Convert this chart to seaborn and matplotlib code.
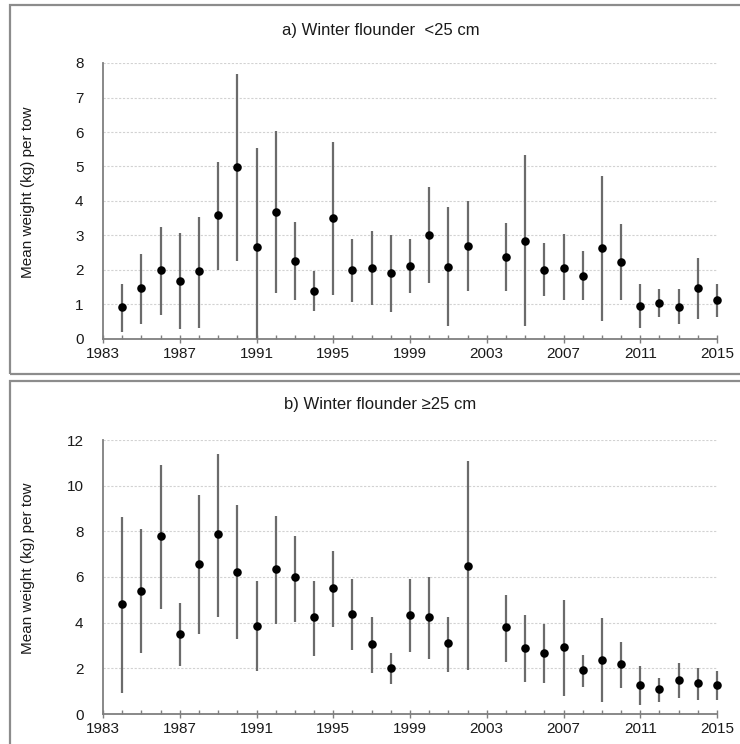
import numpy as np
import pandas as pd
import matplotlib
matplotlib.use("Agg")
import matplotlib.pyplot as plt
from matplotlib.patches import Rectangle
from matplotlib.ticker import MultipleLocator
import seaborn as sns

sns.set_theme(style="white")
plt.rcParams["font.family"] = ["Liberation Sans", "DejaVu Sans"]

years = list(range(1984, 2016))
nan = np.nan

# a) Winter flounder < 25 cm
small_mean = [0.93, 1.47, 2.00, 1.69, 1.96, 3.60, 4.99, 2.66, 3.69, 2.27, 1.40, 3.52, 2.00,
              2.05, 1.91, 2.13, 3.02, 2.10, 2.71, nan, 2.39, 2.84, 2.00, 2.07, 1.83, 2.63,
              2.23, 0.97, 1.04, 0.94, 1.47, 1.14]
small_low = [0.19, 0.44, 0.70, 0.29, 0.32, 1.99, 2.27, 0.00, 1.33, 1.14, 0.80, 1.28, 1.06,
             0.99, 0.78, 1.33, 1.62, 0.37, 1.40, nan, 1.40, 0.37, 1.25, 1.14, 1.14, 0.51,
             1.14, 0.32, 0.63, 0.44, 0.59, 0.63]
small_high = [1.60, 2.47, 3.26, 3.07, 3.53, 5.14, 7.69, 5.55, 6.02, 3.38, 1.96, 5.70, 2.89,
              3.13, 3.00, 2.89, 4.40, 3.82, 4.01, nan, 3.37, 5.33, 2.78, 3.04, 2.56, 4.73,
              3.33, 1.60, 1.45, 1.46, 2.34, 1.60]

# b) Winter flounder >= 25 cm
large_mean = [4.80, 5.39, 7.80, 3.49, 6.55, 7.87, 6.23, 3.87, 6.34, 5.99, 4.23, 5.50, 4.36,
              3.07, 2.03, 4.34, 4.23, 3.09, 6.50, nan, 3.80, 2.88, 2.66, 2.95, 1.93, 2.36,
              2.19, 1.27, 1.09, 1.49, 1.34, 1.27]
large_low = [0.93, 2.69, 4.61, 2.10, 3.49, 4.26, 3.27, 1.88, 3.93, 4.04, 2.54, 3.82, 2.80,
             1.81, 1.31, 2.70, 2.41, 1.85, 1.93, nan, 2.29, 1.42, 1.34, 0.80, 1.20, 0.51,
             1.12, 0.39, 0.51, 0.69, 0.61, 0.61]
large_high = [8.64, 8.09, 10.92, 4.85, 9.59, 11.39, 9.15, 5.84, 8.69, 7.81, 5.84, 7.14, 5.90,
              4.23, 2.66, 5.91, 6.01, 4.23, 11.08, nan, 5.21, 4.34, 3.94, 4.99, 2.58, 4.19,
              3.17, 2.10, 1.56, 2.22, 2.03, 1.90]

titles = ["a) Winter flounder  <25 cm", "b) Winter flounder \u226525 cm"]
ylabel = "Mean weight (kg) per tow"
xticks = list(range(1983, 2016, 4))

W, H = 740, 744
fig = plt.figure(figsize=(W / 100, H / 100), dpi=100)

def fx(px):
    return px / W

def fy(py):
    return 1 - py / H

# panel frames
frame_color = "#8c8c8c"
for top, bottom in [(5, 374), (380.5, 760)]:
    fig.patches.append(Rectangle((fx(9.5), fy(bottom)), fx(760) - fx(9.5), fy(top) - fy(bottom),
                                 transform=fig.transFigure, fill=False,
                                 edgecolor=frame_color, linewidth=1.6, zorder=0))

panels = [
    dict(mean=small_mean, low=small_low, high=small_high, ymax=8, ystep=1,
         top=63, bottom=339, title_y=30, label_y=192),
    dict(mean=large_mean, low=large_low, high=large_high, ymax=12, ystep=2,
         top=440, bottom=714, title_y=405, label_y=568),
]

text_color = "#1a1a1a"
axis_gray = "#7f7f7f"
for p, title in zip(panels, titles):
    ax = fig.add_axes([fx(103), fy(p["bottom"]), fx(717) - fx(103), fy(p["top"]) - fy(p["bottom"])])
    df = pd.DataFrame({"year": years, "mean": p["mean"], "low": p["low"], "high": p["high"]})
    ax.vlines(df["year"], df["low"], df["high"], color="#6b6b6b", linewidth=1.6,
              zorder=2, clip_on=False)
    sns.scatterplot(data=df, x="year", y="mean", ax=ax, color="black", s=38,
                    edgecolor="black", linewidth=0, zorder=3, legend=False, clip_on=False)
    ax.set_xlim(1983, 2015)
    ax.set_ylim(0, p["ymax"])
    ax.set_xticks(xticks)
    ax.xaxis.set_minor_locator(MultipleLocator(1))
    ax.yaxis.set_major_locator(MultipleLocator(p["ystep"]))
    for y in np.arange(p["ystep"], p["ymax"] + 0.01, p["ystep"]):
        ax.axhline(y, color="#d2d2d2", linewidth=0.8, linestyle=(0, (2, 1.5)), zorder=1)
    for s in ["top", "right"]:
        ax.spines[s].set_visible(False)
    for s in ["left", "bottom"]:
        ax.spines[s].set_color(axis_gray)
        ax.spines[s].set_linewidth(1.3)
    ax.tick_params(axis="x", which="major", direction="inout", length=6, width=1,
                   color=axis_gray, labelsize=11, labelcolor=text_color, pad=3, bottom=True)
    ax.tick_params(axis="x", which="minor", direction="in", length=3, width=1,
                   color=axis_gray, bottom=True)
    ax.tick_params(axis="y", which="both", length=0, labelsize=11, labelcolor=text_color, pad=14)
    ax.set_xlabel("")
    ax.set_ylabel("")
    ax.set_facecolor("none")
    fig.text(fx(28), fy(p["label_y"]), ylabel, rotation=90, ha="center", va="center",
             fontsize=11, color=text_color)
    fig.text(fx(380.5), fy(p["title_y"]), title, ha="center", va="center", fontsize=12,
             color=text_color)

fig.savefig("out.png", dpi=100, facecolor="white")
